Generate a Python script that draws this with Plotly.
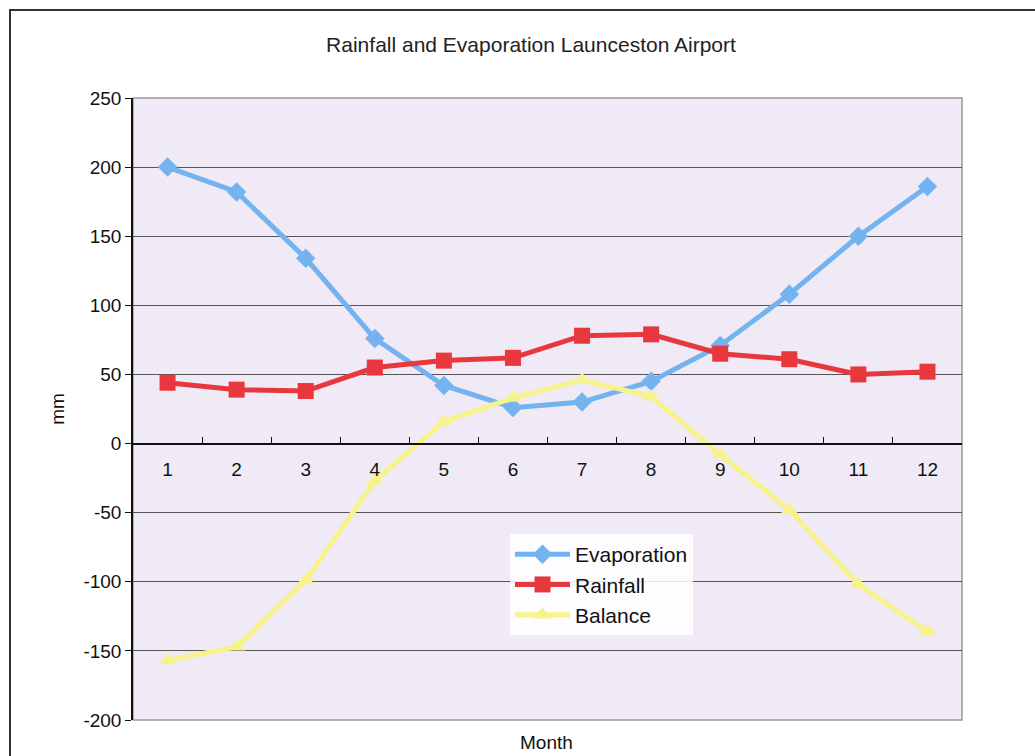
import plotly.graph_objects as go

months = ["1", "2", "3", "4", "5", "6", "7", "8", "9", "10", "11", "12"]
evaporation = [200, 182, 134, 76, 42, 26, 30, 45, 71, 108, 150, 186]
rainfall = [44, 39, 38, 55, 60, 62, 78, 79, 65, 61, 50, 52]
balance = [-157, -147, -99, -27, 16, 33, 46, 34, -8, -48, -102, -136]
y_tickvals = [-200, -150, -100, -50, 0, 50, 100, 150, 200, 250]
y_ticktext = ["-200", "-150", "-100", "-50", "0", "50", "100", "150", "200", "250"]

FONT = "Liberation Sans"

fig = go.Figure()
fig.add_trace(go.Scatter(
    x=months, y=evaporation, name="Evaporation", mode="lines+markers",
    line=dict(color="#74B3F0", width=5),
    marker=dict(symbol="diamond", size=15, color="#74B3F0"),
))
fig.add_trace(go.Scatter(
    x=months, y=rainfall, name="Rainfall", mode="lines+markers",
    line=dict(color="#E8383D", width=5),
    marker=dict(symbol="square", size=16, color="#E8383D"),
))
fig.add_trace(go.Scatter(
    x=months, y=balance, name="Balance", mode="lines+markers",
    line=dict(color="#F7F28A", width=5),
    marker=dict(symbol="triangle-up", size=15, color="#F7F28A"),
))

# plot area: x 133..962, y 98..720
L, R, T, B = 133, 73, 98, 36
W, H = 1035 - L - R, 756 - T - B
ymin, ymax = -200, 250
zero_pos = (0 - ymin) / (ymax - ymin)

fig.update_layout(
    width=1035, height=756,
    margin=dict(l=L, r=R, t=T, b=B),
    paper_bgcolor="white",
    plot_bgcolor="#EFEAF6",
    font=dict(family=FONT, size=19, color="#111"),
    title=dict(text="Rainfall and Evaporation Launceston Airport",
               x=(531 - L) / W, xanchor="center", xref="paper",
               y=1 - 45 / 756, yanchor="middle",
               font=dict(size=21, family=FONT, color="#222")),
    showlegend=True,
    legend=dict(x=(510 - L) / W, y=(720 - 534) / H, xanchor="left", yanchor="top",
                bgcolor="rgba(255,255,255,0.85)", borderwidth=0,
                font=dict(size=21, family=FONT, color="#111"),
                itemwidth=55, tracegroupgap=0),
    xaxis=dict(
        type="category", range=[-0.5, 11.5],
        anchor="free", position=zero_pos,
        showline=True, linecolor="#111", linewidth=1.5,
        ticks="inside", tickson="boundaries", ticklen=6, tickcolor="#111",
        showgrid=False, zeroline=False,
        tickfont=dict(size=19, family=FONT, color="#111"),
        ticklabelstandoff=9,
    ),
    yaxis=dict(
        range=[ymin, ymax], tickvals=y_tickvals, ticktext=y_ticktext,
        showline=True, linecolor="#111", linewidth=1.5,
        ticks="outside", ticklen=6, tickcolor="#111",
        showgrid=True, gridcolor="#555", gridwidth=1,
        zeroline=False,
        tickfont=dict(size=19, family=FONT, color="#111"),
        title=dict(text="mm", font=dict(size=19, family=FONT, color="#111"), standoff=14),
    ),
)

# plot area right/bottom frame (grey)
fig.add_shape(type="rect", xref="paper", yref="paper", x0=0, x1=1, y0=0, y1=1,
              line=dict(color="#9A9A9A", width=1.5), layer="below")
# outer page border
fig.add_shape(type="rect", xref="paper", yref="paper",
              x0=(10 - L) / W, x1=(1045 - L) / W,
              y0=(720 - 770) / H, y1=(720 - 10) / H,
              line=dict(color="#333", width=2))

fig.add_annotation(text="Month", xref="paper", yref="paper",
                   x=(546 - L) / W, y=(720 - 742) / H, showarrow=False,
                   font=dict(size=19, family=FONT, color="#111"),
                   xanchor="center", yanchor="middle")

fig.write_html("out.html")
